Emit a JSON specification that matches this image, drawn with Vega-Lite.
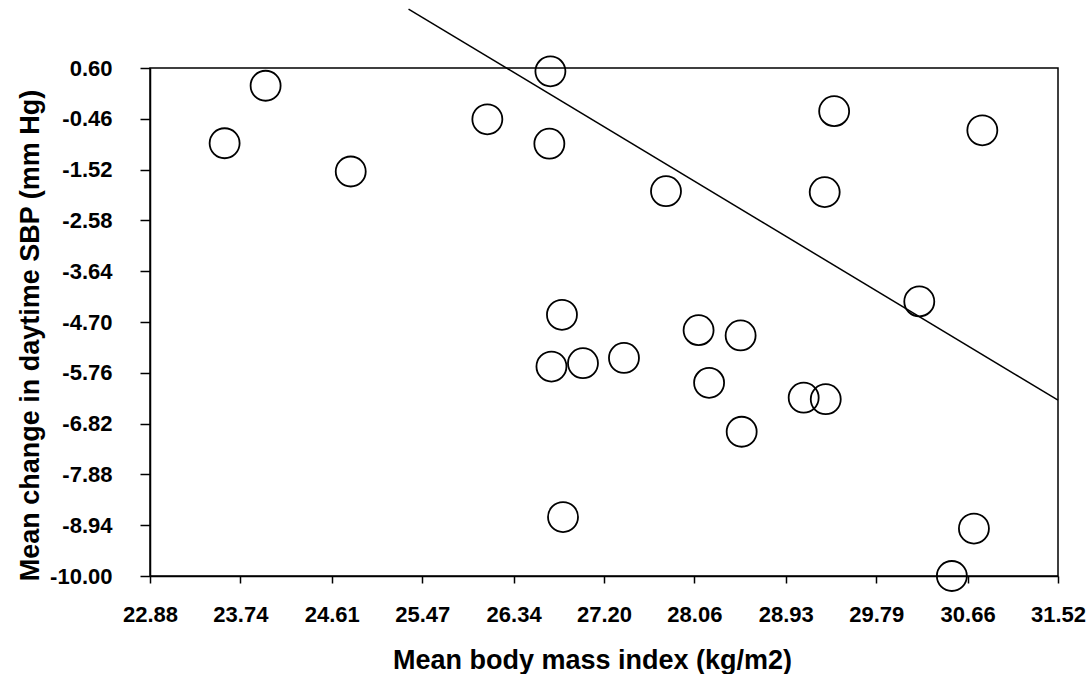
{
  "$schema": "https://vega.github.io/schema/vega-lite/v6.json",
  "width": 908,
  "height": 508,
  "autosize": {"type": "none"},
  "padding": {"left": 150, "top": 68, "right": 34, "bottom": 98},
  "background": "white",
  "config": {
    "view": {"stroke": "black", "strokeWidth": 1.5},
    "axis": {
      "grid": false,
      "domainColor": "black",
      "domainWidth": 1.5,
      "tickColor": "black",
      "tickWidth": 1.5,
      "labelColor": "black",
      "labelFont": "Liberation Sans",
      "labelFontWeight": "bold",
      "labelFontSize": 22,
      "labelFlush": false,
      "labelOverlap": false,
      "titleColor": "black",
      "titleFont": "Liberation Sans",
      "titleFontWeight": "bold",
      "titleFontSize": 27
    }
  },
  "datasets": {
    "points": [
      {"bmi": 23.59, "sbp": -0.97},
      {"bmi": 23.98, "sbp": 0.23},
      {"bmi": 24.79, "sbp": -1.56},
      {"bmi": 26.09, "sbp": -0.47},
      {"bmi": 26.69, "sbp": 0.53},
      {"bmi": 26.68, "sbp": -0.98},
      {"bmi": 27.79, "sbp": -1.97},
      {"bmi": 29.39, "sbp": -0.30},
      {"bmi": 30.80, "sbp": -0.70},
      {"bmi": 29.30, "sbp": -1.99},
      {"bmi": 30.20, "sbp": -4.27},
      {"bmi": 26.80, "sbp": -4.55},
      {"bmi": 26.70, "sbp": -5.63},
      {"bmi": 27.00, "sbp": -5.56},
      {"bmi": 27.39, "sbp": -5.45},
      {"bmi": 28.10, "sbp": -4.87},
      {"bmi": 28.50, "sbp": -4.98},
      {"bmi": 28.20, "sbp": -5.97},
      {"bmi": 29.10, "sbp": -6.28},
      {"bmi": 29.31, "sbp": -6.31},
      {"bmi": 28.51, "sbp": -6.99},
      {"bmi": 26.81, "sbp": -8.77},
      {"bmi": 30.72, "sbp": -9.01},
      {"bmi": 30.51, "sbp": -10.00}
    ],
    "fit": [
      {"bmi": 25.34, "sbp": 1.83},
      {"bmi": 31.52, "sbp": -6.33}
    ]
  },
  "layer": [
    {
      "data": {"name": "points"},
      "mark": {"type": "point", "shape": "circle", "filled": false, "size": 900, "stroke": "black", "strokeWidth": 1.8, "opacity": 1},
      "encoding": {
        "x": {
          "field": "bmi", "type": "quantitative",
          "scale": {"domain": [22.88, 31.52], "nice": false, "zero": false},
          "axis": {
            "values": [22.88, 23.74, 24.61, 25.47, 26.34, 27.20, 28.06, 28.93, 29.79, 30.66, 31.52],
            "format": ".2f",
            "tickSize": 7,
            "labelPadding": 21,
            "title": "Mean body mass index (kg/m2)",
            "titleX": 442,
            "titleY": 92,
            "titleAlign": "center",
            "titleBaseline": "alphabetic"
          }
        },
        "y": {
          "field": "sbp", "type": "quantitative",
          "scale": {"domain": [-10, 0.6], "nice": false, "zero": false},
          "axis": {
            "values": [0.6, -0.46, -1.52, -2.58, -3.64, -4.7, -5.76, -6.82, -7.88, -8.94, -10],
            "labelExpr": "replace(format(datum.value, '.2f'), '\u2212', '-')",
            "tickSize": 10,
            "labelPadding": 28,
            "title": "Mean change in daytime SBP (mm Hg)",
            "titleX": -112,
            "titleY": 267,
            "titleAngle": -90,
            "titleAlign": "center",
            "titleBaseline": "alphabetic"
          }
        }
      }
    },
    {
      "data": {"name": "fit"},
      "mark": {"type": "line", "color": "black", "strokeWidth": 1.5},
      "encoding": {
        "x": {"field": "bmi", "type": "quantitative"},
        "y": {"field": "sbp", "type": "quantitative"}
      }
    }
  ]
}
